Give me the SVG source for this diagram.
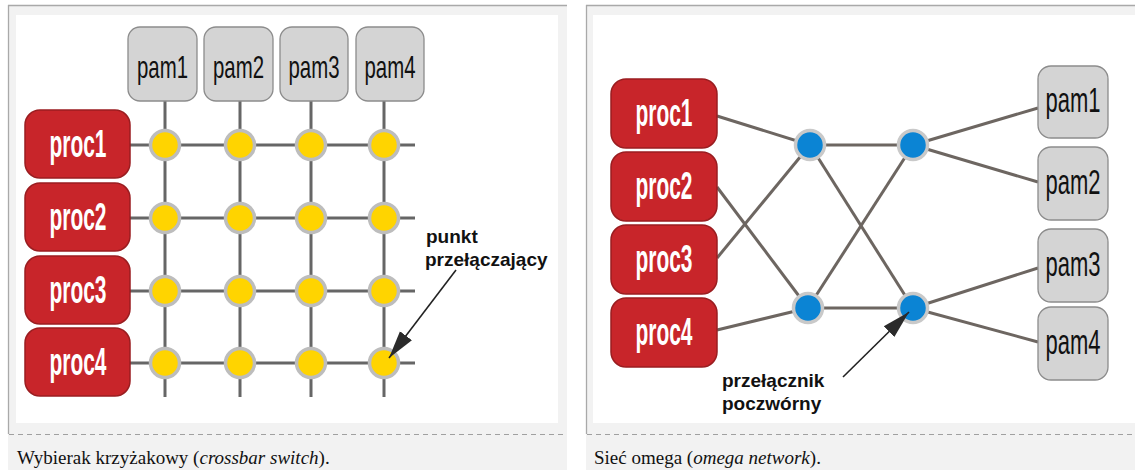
<svg xmlns="http://www.w3.org/2000/svg" width="1135" height="476" viewBox="0 0 1135 476">
<style>
.panel{fill:#f2f2f2}
.border{stroke:#a9a9a9;stroke-width:1.3;fill:none}
.dash{stroke:#a0a0a0;stroke-width:1.2;stroke-dasharray:5 4;fill:none}
.img{fill:#ffffff}
.proc rect{fill:#c8252a;stroke:#9a1d20;stroke-width:1.5}
.proc text{fill:#ffffff;font-family:"Liberation Sans",Arial,sans-serif;font-size:38px;font-weight:bold;text-anchor:middle}
.pam rect{fill:#d4d4d4;stroke:#8c8c8c;stroke-width:1.3}
.pam text{fill:#111111;font-family:"Liberation Sans",Arial,sans-serif;text-anchor:middle}
.grid line{stroke:#666666;stroke-width:3}
.net line{stroke:#6d6661;stroke-width:3}
.xp circle{fill:#ffd400;stroke:#bdbdbd;stroke-width:3.5}
.sw circle{fill:#0b84d4;stroke:#c9c9c9;stroke-width:3.5}
.lbl{font-family:"Liberation Sans",Arial,sans-serif;font-weight:bold;font-size:19px;fill:#111111}
.cap{font-family:"Liberation Serif","Times New Roman",serif;font-size:19px;fill:#111111}
.arr{stroke:#222222;stroke-width:1.6;fill:none;marker-end:url(#head)}
</style>
<defs>
<marker id="head" markerUnits="userSpaceOnUse" markerWidth="30" markerHeight="18" viewBox="0 0 30 18" refX="28" refY="9" orient="auto">
<path d="M0,1.5 L28,9 L0,16.5 z" fill="#2b2b2b"/>
</marker>
</defs>

<!-- panel frames -->
<g id="frames">
<rect class="panel" x="8" y="5" width="559" height="465"/>
<rect class="img" x="16" y="15" width="542" height="408"/>
<line class="border" x1="8" y1="5.5" x2="567" y2="5.5"/>
<line class="border" x1="8.5" y1="5" x2="8.5" y2="434"/>
<line class="dash" x1="9" y1="434.5" x2="567" y2="434.5"/>
<rect class="panel" x="586" y="5" width="549" height="465"/>
<rect class="img" x="593" y="15" width="542" height="408"/>
<line class="border" x1="586" y1="5.5" x2="1135" y2="5.5"/>
<line class="border" x1="586.5" y1="5" x2="586.5" y2="434"/>
<line class="dash" x1="587" y1="434.5" x2="1135" y2="434.5"/>
</g>

<!-- LEFT: crossbar switch -->
<g id="crossbar-connectors" class="grid">
<line x1="130" y1="145" x2="415" y2="145"/>
<line x1="130" y1="218" x2="415" y2="218"/>
<line x1="130" y1="291" x2="415" y2="291"/>
<line x1="130" y1="363" x2="415" y2="363"/>
<line x1="165" y1="101" x2="165" y2="397"/>
<line x1="240" y1="101" x2="240" y2="397"/>
<line x1="311" y1="101" x2="311" y2="397"/>
<line x1="384" y1="101" x2="384" y2="397"/>
</g>

<g id="cb-pam1" class="pam"><rect x="128" y="27" width="69" height="74" rx="12"/><text x="162.5" y="78" font-size="32" textLength="51" lengthAdjust="spacingAndGlyphs">pam1</text></g>
<g id="cb-pam2" class="pam"><rect x="204" y="27" width="69" height="74" rx="12"/><text x="238.5" y="78" font-size="32" textLength="51" lengthAdjust="spacingAndGlyphs">pam2</text></g>
<g id="cb-pam3" class="pam"><rect x="280" y="27" width="68" height="74" rx="12"/><text x="314" y="78" font-size="32" textLength="51" lengthAdjust="spacingAndGlyphs">pam3</text></g>
<g id="cb-pam4" class="pam"><rect x="356" y="27" width="68" height="74" rx="12"/><text x="390" y="78" font-size="32" textLength="51" lengthAdjust="spacingAndGlyphs">pam4</text></g>

<g id="cb-proc1" class="proc"><rect x="25" y="110" width="105" height="68" rx="15"/><text x="78" y="157" textLength="57" lengthAdjust="spacingAndGlyphs">proc1</text></g>
<g id="cb-proc2" class="proc"><rect x="25" y="183" width="105" height="68" rx="15"/><text x="78" y="230" textLength="57" lengthAdjust="spacingAndGlyphs">proc2</text></g>
<g id="cb-proc3" class="proc"><rect x="25" y="256" width="105" height="68" rx="15"/><text x="78" y="303" textLength="57" lengthAdjust="spacingAndGlyphs">proc3</text></g>
<g id="cb-proc4" class="proc"><rect x="25" y="328" width="105" height="68" rx="15"/><text x="78" y="375" textLength="57" lengthAdjust="spacingAndGlyphs">proc4</text></g>

<g id="cb-crosspoints" class="xp">
<circle cx="165" cy="145" r="14.5"/><circle cx="240" cy="145" r="14.5"/><circle cx="311" cy="145" r="14.5"/><circle cx="384" cy="145" r="14.5"/>
<circle cx="165" cy="218" r="14.5"/><circle cx="240" cy="218" r="14.5"/><circle cx="311" cy="218" r="14.5"/><circle cx="384" cy="218" r="14.5"/>
<circle cx="165" cy="291" r="14.5"/><circle cx="240" cy="291" r="14.5"/><circle cx="311" cy="291" r="14.5"/><circle cx="384" cy="291" r="14.5"/>
<circle cx="165" cy="363" r="14.5"/><circle cx="240" cy="363" r="14.5"/><circle cx="311" cy="363" r="14.5"/><circle cx="384" cy="363" r="14.5"/>
</g>

<g id="cb-label">
<text class="lbl" x="426" y="243">punkt</text>
<text class="lbl" x="425" y="266">przełączający</text>
<line class="arr" x1="456" y1="270" x2="389" y2="358"/>
</g>

<text class="cap" x="17" y="464">Wybierak krzyżakowy (<tspan font-style="italic">crossbar switch</tspan>).</text>

<!-- RIGHT: omega network -->
<g id="omega-connectors" class="net">
<line x1="717" y1="116" x2="810" y2="145"/>
<line x1="717" y1="187" x2="808" y2="308"/>
<line x1="717" y1="258" x2="810" y2="145"/>
<line x1="717" y1="330" x2="808" y2="308"/>
<line x1="810" y1="145" x2="913" y2="145"/>
<line x1="808" y1="308" x2="913" y2="308"/>
<line x1="810" y1="145" x2="913" y2="308"/>
<line x1="808" y1="308" x2="913" y2="145"/>
<line x1="913" y1="145" x2="1038" y2="108"/>
<line x1="913" y1="145" x2="1038" y2="182"/>
<line x1="913" y1="308" x2="1038" y2="268"/>
<line x1="913" y1="308" x2="1038" y2="342"/>
</g>

<g id="om-proc1" class="proc"><rect x="611" y="79" width="106" height="69" rx="15"/><text x="664" y="126" textLength="57" lengthAdjust="spacingAndGlyphs">proc1</text></g>
<g id="om-proc2" class="proc"><rect x="611" y="152" width="106" height="69" rx="15"/><text x="664" y="199" textLength="57" lengthAdjust="spacingAndGlyphs">proc2</text></g>
<g id="om-proc3" class="proc"><rect x="611" y="225" width="106" height="69" rx="15"/><text x="664" y="272" textLength="57" lengthAdjust="spacingAndGlyphs">proc3</text></g>
<g id="om-proc4" class="proc"><rect x="611" y="298" width="106" height="69" rx="15"/><text x="664" y="345" textLength="57" lengthAdjust="spacingAndGlyphs">proc4</text></g>

<g id="om-pam1" class="pam"><rect x="1038" y="66" width="70" height="72" rx="13"/><text x="1073" y="112" font-size="35" textLength="55" lengthAdjust="spacingAndGlyphs">pam1</text></g>
<g id="om-pam2" class="pam"><rect x="1038" y="147" width="70" height="73" rx="13"/><text x="1073" y="194" font-size="35" textLength="55" lengthAdjust="spacingAndGlyphs">pam2</text></g>
<g id="om-pam3" class="pam"><rect x="1038" y="229" width="70" height="73" rx="13"/><text x="1073" y="276" font-size="35" textLength="55" lengthAdjust="spacingAndGlyphs">pam3</text></g>
<g id="om-pam4" class="pam"><rect x="1038" y="307" width="70" height="73" rx="13"/><text x="1073" y="354" font-size="35" textLength="55" lengthAdjust="spacingAndGlyphs">pam4</text></g>

<g id="om-switches" class="sw">
<circle cx="810" cy="145" r="14.5"/><circle cx="913" cy="145" r="14.5"/>
<circle cx="808" cy="308" r="14.5"/><circle cx="913" cy="308" r="14.5"/>
</g>

<g id="om-label">
<text class="lbl" x="722" y="387">przełącznik</text>
<text class="lbl" x="722" y="410">poczwórny</text>
<line class="arr" x1="843" y1="377" x2="909" y2="312"/>
</g>

<text class="cap" x="594" y="464">Sieć omega (<tspan font-style="italic">omega network</tspan>).</text>
</svg>
